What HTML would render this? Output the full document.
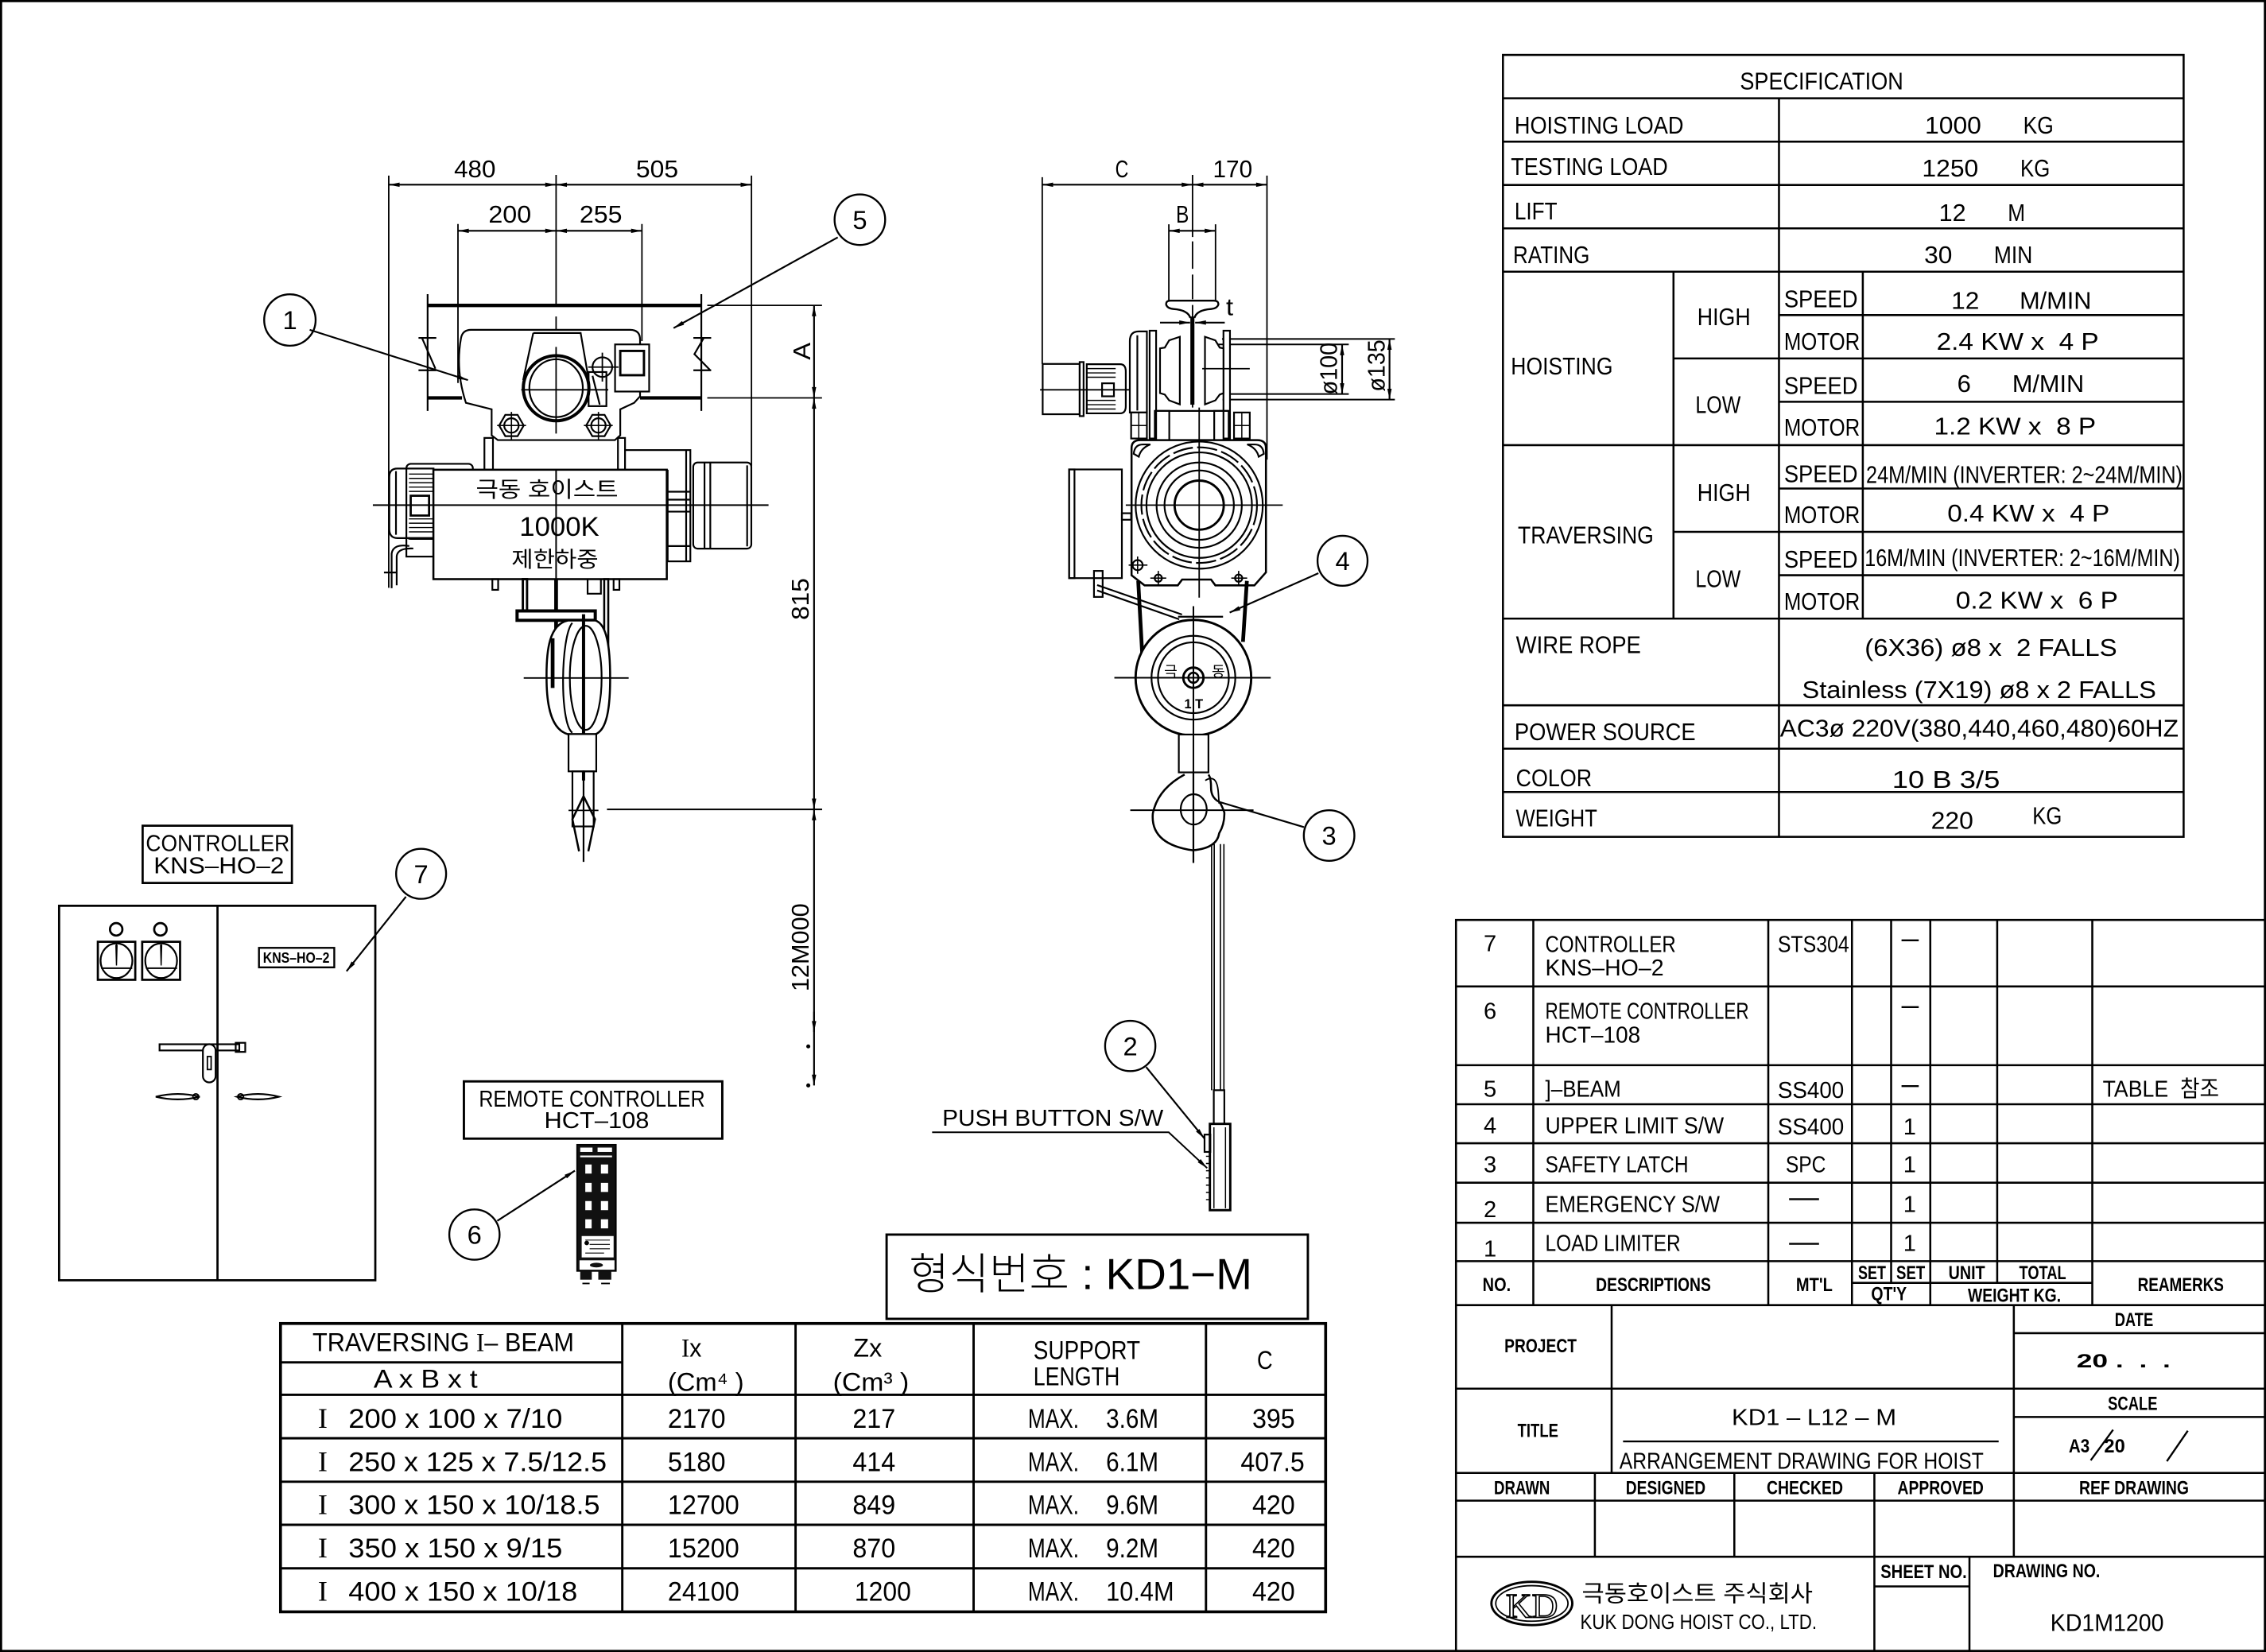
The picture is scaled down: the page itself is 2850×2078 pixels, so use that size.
<!DOCTYPE html>
<html><head><meta charset="utf-8"><style>
html,body{margin:0;padding:0;background:#fff;}
svg{display:block;}
text{font-family:"Liberation Sans","Noto Sans CJK KR",sans-serif;fill:#000;stroke:none;}
.b{font-weight:bold;}
.s{font-family:"Liberation Serif",serif;}
</style></head><body>
<svg width="2850" height="2078" viewBox="0 0 1568 1143" preserveAspectRatio="none" xmlns="http://www.w3.org/2000/svg">
<defs>
<marker id="ar" viewBox="0 0 10 4" refX="10" refY="2" markerWidth="8" markerHeight="3" markerUnits="userSpaceOnUse" orient="auto-start-reverse"><path d="M0,0L10,2L0,4z" fill="#000"/></marker>
</defs>
<rect width="1568" height="1143" fill="#fff"/>
<rect x="0.75" y="0.75" width="1566.5" height="1141.5" fill="none" stroke="#000" stroke-width="1.5"/>

<!-- ================= SPEC TABLE ================= -->
<g stroke="#000" stroke-width="1.4" fill="none">
<rect x="1040" y="38" width="471" height="541"/>
<path d="M1040 68H1511M1040 98H1511M1040 128H1511M1040 158H1511M1040 188H1511M1231 218H1511M1158 248H1511M1231 278H1511M1040 308H1511M1231 338H1511M1158 368H1511M1231 398H1511M1040 428H1511M1040 488H1511M1040 518H1511M1040 548H1511M1231 68V579M1158 188V428M1289 188V428"/>
</g>
<g font-size="17">
<text x="1204" y="62" textLength="113" lengthAdjust="spacingAndGlyphs">SPECIFICATION</text>
<text x="1048" y="92.5" textLength="117" lengthAdjust="spacingAndGlyphs">HOISTING LOAD</text>
<text x="1332" y="92.5" textLength="39" lengthAdjust="spacingAndGlyphs">1000</text>
<text x="1400" y="92.5" textLength="21" lengthAdjust="spacingAndGlyphs">KG</text>
<text x="1045.5" y="121" textLength="108.6" lengthAdjust="spacingAndGlyphs">TESTING LOAD</text>
<text x="1330" y="122" textLength="39" lengthAdjust="spacingAndGlyphs">1250</text>
<text x="1398" y="122" textLength="20.5" lengthAdjust="spacingAndGlyphs">KG</text>
<text x="1048" y="151.7" textLength="29.6" lengthAdjust="spacingAndGlyphs">LIFT</text>
<text x="1341.7" y="153" textLength="18.7" lengthAdjust="spacingAndGlyphs">12</text>
<text x="1389.3" y="153" textLength="12" lengthAdjust="spacingAndGlyphs">M</text>
<text x="1047" y="182" textLength="53" lengthAdjust="spacingAndGlyphs">RATING</text>
<text x="1331.5" y="182" textLength="19.4" lengthAdjust="spacingAndGlyphs">30</text>
<text x="1379.8" y="182" textLength="26.6" lengthAdjust="spacingAndGlyphs">MIN</text>
<text x="1045.5" y="259" textLength="70.5" lengthAdjust="spacingAndGlyphs">HOISTING</text>
<text x="1174.5" y="225" textLength="36.8" lengthAdjust="spacingAndGlyphs">HIGH</text>
<text x="1173.2" y="285.7" textLength="31.3" lengthAdjust="spacingAndGlyphs">LOW</text>
<text x="1234.5" y="212.7" textLength="51" lengthAdjust="spacingAndGlyphs">SPEED</text>
<text x="1234.5" y="242" textLength="52.5" lengthAdjust="spacingAndGlyphs">MOTOR</text>
<text x="1234.5" y="272.5" textLength="51" lengthAdjust="spacingAndGlyphs">SPEED</text>
<text x="1234.5" y="301.3" textLength="52.5" lengthAdjust="spacingAndGlyphs">MOTOR</text>
<text x="1350.2" y="213.7" textLength="19.4" lengthAdjust="spacingAndGlyphs">12</text>
<text x="1397.5" y="213.7" textLength="49.7" lengthAdjust="spacingAndGlyphs">M/MIN</text>
<text x="1340" y="242" textLength="112.3" lengthAdjust="spacingAndGlyphs">2.4 KW x &#160;4 P</text>
<text x="1354.3" y="271.2" textLength="9.5" lengthAdjust="spacingAndGlyphs">6</text>
<text x="1392.4" y="271.2" textLength="49.7" lengthAdjust="spacingAndGlyphs">M/MIN</text>
<text x="1338.3" y="300.6" textLength="112" lengthAdjust="spacingAndGlyphs">1.2 KW x &#160;8 P</text>
<text x="1050.3" y="376" textLength="94" lengthAdjust="spacingAndGlyphs">TRAVERSING</text>
<text x="1174.5" y="346.6" textLength="36.8" lengthAdjust="spacingAndGlyphs">HIGH</text>
<text x="1173.2" y="406.2" textLength="31.3" lengthAdjust="spacingAndGlyphs">LOW</text>
<text x="1234.5" y="333.5" textLength="51" lengthAdjust="spacingAndGlyphs">SPEED</text>
<text x="1234.5" y="362" textLength="52.5" lengthAdjust="spacingAndGlyphs">MOTOR</text>
<text x="1234.5" y="392.7" textLength="51" lengthAdjust="spacingAndGlyphs">SPEED</text>
<text x="1234.5" y="421.8" textLength="52.5" lengthAdjust="spacingAndGlyphs">MOTOR</text>
<text x="1291.3" y="334.2" textLength="218.9" lengthAdjust="spacingAndGlyphs">24M/MIN (INVERTER: 2~24M/MIN)</text>
<text x="1347.5" y="360.8" textLength="112.3" lengthAdjust="spacingAndGlyphs">0.4 KW x &#160;4 P</text>
<text x="1290.3" y="391.7" textLength="218.2" lengthAdjust="spacingAndGlyphs">16M/MIN (INVERTER: 2~16M/MIN)</text>
<text x="1353.3" y="421" textLength="112.3" lengthAdjust="spacingAndGlyphs">0.2 KW x &#160;6 P</text>
<text x="1049" y="452" textLength="86.5" lengthAdjust="spacingAndGlyphs">WIRE ROPE</text>
<text x="1290.3" y="453.7" textLength="174.6" lengthAdjust="spacingAndGlyphs">(6X36) ø8 x &#160;2 FALLS</text>
<text x="1247" y="483" textLength="245" lengthAdjust="spacingAndGlyphs">Stainless (7X19) ø8 x 2 FALLS</text>
<text x="1048" y="512" textLength="125.3" lengthAdjust="spacingAndGlyphs">POWER SOURCE</text>
<text x="1231.7" y="509.7" textLength="275.8" lengthAdjust="spacingAndGlyphs">AC3ø 220V(380,440,460,480)60HZ</text>
<text x="1049" y="544" textLength="52.5" lengthAdjust="spacingAndGlyphs">COLOR</text>
<text x="1309.3" y="545" textLength="74.6" lengthAdjust="spacingAndGlyphs">10 B 3/5</text>
<text x="1049" y="571.7" textLength="56.2" lengthAdjust="spacingAndGlyphs">WEIGHT</text>
<text x="1336.2" y="573.5" textLength="29.3" lengthAdjust="spacingAndGlyphs">220</text>
<text x="1406.4" y="570" textLength="20.4" lengthAdjust="spacingAndGlyphs">KG</text>
</g>

<!-- ================= PARTS TABLE / TITLE BLOCK ================= -->
<g stroke="#000" stroke-width="1.4" fill="none">
<rect x="1007.5" y="636.5" width="560" height="506"/>
<path d="M1007.5 682.5H1568M1007.5 737H1568M1007.5 764H1568M1007.5 791H1568M1007.5 818.3H1568M1007.5 846H1568M1007.5 872.6H1568M1007.5 903H1568M1281.5 887.6H1447.8"/>
<path d="M1061 636.5V903M1223.6 636.5V903M1281.5 636.5V903M1308.6 636.5V887.6M1335.7 636.5V903M1382 636.5V887.6M1447.8 636.5V903"/>
<path d="M1007.5 960.8H1568M1007.5 1019.1H1568M1007.5 1038.3H1568M1007.5 1077.1H1568M1393.5 922.4H1568M1393.5 980.4H1568"/>
<path d="M1115.2 903V1019.1M1393.5 903V1077.1M1103.6 1019.1V1077.1M1200.1 1019.1V1077.1M1297 1019.1V1143M1362.8 1077.1V1143M1297 1097.6H1362.8"/>
<path d="M1123.1 997.3H1383" stroke-width="1.2"/>
<path d="M1315.8 650.6H1327.7M1315.8 696.8H1327.7M1315.8 751.5H1327.7M1238 829.7H1258.7M1238 860.6H1258.7" stroke-width="1.3"/>
<path d="M1446.7 1010.4L1462.2 989.2M1499.4 1011L1513.9 989.9" stroke-width="1.3"/>
</g>
<g font-size="16">
<text x="1026.6" y="658.1">7</text>
<text x="1069.3" y="658.7" textLength="90.3" lengthAdjust="spacingAndGlyphs">CONTROLLER</text>
<text x="1069.3" y="675" textLength="82" lengthAdjust="spacingAndGlyphs">KNS–HO–2</text>
<text x="1230.1" y="658.7" textLength="49.5" lengthAdjust="spacingAndGlyphs">STS304</text>
<text x="1026.6" y="705">6</text>
<text x="1069.3" y="705" textLength="140.9" lengthAdjust="spacingAndGlyphs">REMOTE CONTROLLER</text>
<text x="1069.3" y="721.3" textLength="65.8" lengthAdjust="spacingAndGlyphs">HCT–108</text>
<text x="1026.6" y="758.7">5</text>
<text x="1069.3" y="758.7" textLength="52.4" lengthAdjust="spacingAndGlyphs">]–BEAM</text>
<text x="1230.1" y="759.7" textLength="45.9" lengthAdjust="spacingAndGlyphs">SS400</text>
<text x="1455" y="758.7" textLength="80.6" lengthAdjust="spacingAndGlyphs">TABLE &#160;참조</text>
<text x="1026.6" y="784.1">4</text>
<text x="1069.3" y="784.1" textLength="123.6" lengthAdjust="spacingAndGlyphs">UPPER LIMIT S/W</text>
<text x="1230.1" y="785" textLength="45.9" lengthAdjust="spacingAndGlyphs">SS400</text>
<text x="1317" y="785">1</text>
<text x="1026.6" y="811.1">3</text>
<text x="1069.3" y="811.1" textLength="99" lengthAdjust="spacingAndGlyphs">SAFETY LATCH</text>
<text x="1235.6" y="811.1" textLength="27.8" lengthAdjust="spacingAndGlyphs">SPC</text>
<text x="1317" y="811.1">1</text>
<text x="1026.6" y="842">2</text>
<text x="1069.3" y="838.5" textLength="120.7" lengthAdjust="spacingAndGlyphs">EMERGENCY S/W</text>
<text x="1317" y="838.5">1</text>
<text x="1026.6" y="869.4">1</text>
<text x="1069.3" y="865.5" textLength="93.6" lengthAdjust="spacingAndGlyphs">LOAD LIMITER</text>
<text x="1317" y="865.5">1</text>
</g>
<g font-size="13">
<text class="b" x="1025.9" y="893.2" textLength="19.5" lengthAdjust="spacingAndGlyphs">NO.</text>
<text class="b" x="1104.3" y="893.2" textLength="79.6" lengthAdjust="spacingAndGlyphs">DESCRIPTIONS</text>
<text class="b" x="1242.8" y="893.2" textLength="25.3" lengthAdjust="spacingAndGlyphs">MT'L</text>
<text class="b" x="1285.8" y="885" textLength="19.2" lengthAdjust="spacingAndGlyphs">SET</text>
<text class="b" x="1312.2" y="885" textLength="19.9" lengthAdjust="spacingAndGlyphs">SET</text>
<text class="b" x="1294.8" y="899.7" textLength="24.6" lengthAdjust="spacingAndGlyphs">QT'Y</text>
<text class="b" x="1348.3" y="885" textLength="25.3" lengthAdjust="spacingAndGlyphs">UNIT</text>
<text class="b" x="1397.2" y="885" textLength="32.5" lengthAdjust="spacingAndGlyphs">TOTAL</text>
<text class="b" x="1361.7" y="900.7" textLength="64.4" lengthAdjust="spacingAndGlyphs">WEIGHT KG.</text>
<text class="b" x="1479.2" y="893.2" textLength="59.6" lengthAdjust="spacingAndGlyphs">REAMERKS</text>
<text class="b" x="1041" y="935.5" textLength="50" lengthAdjust="spacingAndGlyphs">PROJECT</text>
<text class="b" x="1463.3" y="917.6" textLength="26.7" lengthAdjust="spacingAndGlyphs">DATE</text>
<text class="b" x="1436.9" y="946" textLength="65" lengthAdjust="spacingAndGlyphs">20 . &#160;. &#160;.</text>
<text class="b" x="1050.1" y="994.1" textLength="28.2" lengthAdjust="spacingAndGlyphs">TITLE</text>
<text class="b" x="1458.6" y="975.6" textLength="34.3" lengthAdjust="spacingAndGlyphs">SCALE</text>
<text class="b" x="1431.5" y="1004.9" textLength="14.5" lengthAdjust="spacingAndGlyphs">A3</text>
<text class="b" x="1456" y="1004.9" textLength="14.5" lengthAdjust="spacingAndGlyphs">20</text>
<text class="b" x="1033.8" y="1033.8" textLength="38.7" lengthAdjust="spacingAndGlyphs">DRAWN</text>
<text class="b" x="1125" y="1033.8" textLength="55.2" lengthAdjust="spacingAndGlyphs">DESIGNED</text>
<text class="b" x="1222.5" y="1033.8" textLength="52.8" lengthAdjust="spacingAndGlyphs">CHECKED</text>
<text class="b" x="1313" y="1033.8" textLength="59.6" lengthAdjust="spacingAndGlyphs">APPROVED</text>
<text class="b" x="1438.7" y="1033.8" textLength="75.9" lengthAdjust="spacingAndGlyphs">REF DRAWING</text>
<text class="b" x="1301.3" y="1091.8" textLength="59.7" lengthAdjust="spacingAndGlyphs">SHEET NO.</text>
<text class="b" x="1379.1" y="1091.2" textLength="74.1" lengthAdjust="spacingAndGlyphs">DRAWING NO.</text>
</g>
<text x="1198.3" y="986" font-size="16" textLength="113.9" lengthAdjust="spacingAndGlyphs">KD1 – L12 – M</text>
<text x="1120.6" y="1016.3" font-size="16" textLength="252" lengthAdjust="spacingAndGlyphs">ARRANGEMENT DRAWING FOR HOIST</text>
<text x="1418.8" y="1128.3" font-size="17" textLength="78.5" lengthAdjust="spacingAndGlyphs">KD1M1200</text>
<text x="1094.6" y="1108.1" font-size="16" textLength="159.8" lengthAdjust="spacingAndGlyphs">극동호이스트 주식회사</text>
<text x="1093.5" y="1127" font-size="14" textLength="163.7" lengthAdjust="spacingAndGlyphs">KUK DONG HOIST CO., LTD.</text>
<g fill="none" stroke="#000">
<ellipse cx="1060" cy="1109.4" rx="28" ry="15" stroke-width="1.6"/>
<ellipse cx="1060" cy="1109.4" rx="25" ry="12.3" stroke-width="1"/>
</g>
<text class="s" x="1042" y="1119" font-size="24" textLength="36" lengthAdjust="spacingAndGlyphs" style="fill:#fff;stroke:#000;stroke-width:0.9">KD</text>

<!-- ================= FRONT VIEW ================= -->
<g stroke="#000" fill="none" stroke-width="1.2">
<path d="M269 121.5V406.7M520 121.5V322.5M316.9 155V265M444.2 155V236" stroke-width="1"/>
<path d="M269 127.8H384.8" marker-start="url(#ar)" marker-end="url(#ar)"/>
<path d="M384.8 127.8H520" marker-start="url(#ar)" marker-end="url(#ar)"/>
<path d="M316.9 159.7H384.8" marker-start="url(#ar)" marker-end="url(#ar)"/>
<path d="M384.8 159.7H444.2" marker-start="url(#ar)" marker-end="url(#ar)"/>
<path d="M384.8 121V212M384.8 219V228" stroke-width="1"/>
<path d="M295.9 211.3H485.3" stroke-width="2.4"/>
<path d="M295.9 275.3H319.7M442.9 275.3H485.3" stroke-width="2.4"/>
<path d="M295.9 203.5V284.3M485.3 203.5V284.3"/>
<path d="M289.6 233.8H301.9M292 233.8L301.3 255.1M289.6 256.2H301.9"/>
<path d="M479.8 233.8H492.1M487 233.8L480.5 245L491.5 256.2M479.8 256.2H492.1"/>
<path d="M489.4 211.3H568.8M489.4 275.3H568.8" stroke-width="1"/>
<path d="M563.3 211.3V275.3" marker-start="url(#ar)" marker-end="url(#ar)"/>
<path d="M563.3 275.3V560" marker-start="url(#ar)" marker-end="url(#ar)"/>
<path d="M563.3 560V751" marker-start="url(#ar)" marker-end="url(#ar)"/>
<path d="M563.3 700V714" marker-end="url(#ar)"/>
<path d="M420 560H568.9" stroke-width="1.1"/>
<path d="M326 228.2H436Q442.9 228.2 442.9 235V274.2L438.8 278.7L429.2 283.2V301.2L425.5 304.5H344.5L340.2 301.2V283.2L322.4 278.7Q315 256 319 234Q320 228.2 326 228.2Z" fill="#fff"/>
<path d="M369 230.4H401.8L407.4 263M369 230.4L362 263" fill="#fff"/>
<ellipse cx="384.8" cy="268.6" rx="22.7" ry="22.5" stroke-width="2.2" fill="#fff"/>
<ellipse cx="384.8" cy="268.6" rx="18.5" ry="20"/>
<path d="M360.7 269.7H420.9M384.8 240V300" stroke-width="1"/>
<rect x="425.6" y="238.3" width="23.6" height="32.6" fill="#fff"/>
<rect x="429.2" y="242.8" width="16.4" height="16.8" stroke-width="1.6"/>
<rect x="407.3" y="257.4" width="12.3" height="23.6"/>
<path d="M410 260L415 280"/>
<circle cx="416.8" cy="254" r="6.8"/>
<path d="M407 254H428M416.8 244V264" stroke-width="1"/>
<path d="M362.4 294.4L358.15 301.76H349.65L345.4 294.4L349.65 287.04H358.15Z"/>
<circle cx="353.9" cy="294.4" r="5"/>
<path d="M344 294.4H364M353.9 285V304" stroke-width="0.9"/>
<path d="M422.6 294.4L418.35 301.76H409.85L405.6 294.4L409.85 287.04H418.35Z"/>
<circle cx="414.1" cy="294.4" r="5"/>
<path d="M404 294.4H424M414.1 285V304" stroke-width="0.9"/>
<rect x="335.2" y="303" width="5.9" height="22"/>
<rect x="427.6" y="303" width="4.9" height="22"/>
<rect x="432.5" y="311.4" width="45.2" height="77" fill="#fff"/>
<path d="M474.8 311.4V388.4M462 340.2H477.7M462 345.7H477.7M462 354H477.7M462 377.8H477.7M462 325V388"/>
<rect x="479.7" y="320" width="40.2" height="59.6" rx="3" fill="#fff"/>
<path d="M487.5 320V379.6M491.5 320V379.6M517 322V378"/>
<rect x="281.2" y="320.9" width="46" height="52" rx="3" fill="#fff"/>
<path d="M269.4 330Q269.4 324.2 275 324.2H300V372.3H275Q269.4 372.3 269.4 366Z" fill="#fff"/>
<path d="M283 328H300M283 331H300M283 334H300M283 337H300M283 340H300M283 359H300M283 362H300M283 365H300M283 368H300" stroke-width="0.8"/>
<path d="M281.2 324.2V372.3M274 326V370"/>
<rect x="284.2" y="343" width="12.7" height="13.7" stroke-width="1.5"/>
<rect x="281.2" y="372.3" width="18.7" height="12.8"/>
<path d="M283.2 377.8Q272 376 271 383V407M286 379.5Q275 379 274.5 385V405M265.7 396.1H274.5"/>
<rect x="299.9" y="325" width="161.5" height="75.7" fill="#fff" stroke-width="1.4"/>
<path d="M258 349.5H531.8" stroke-width="1.1"/>
<path d="M384.8 325V400.7" stroke-width="1.1"/>
<rect x="340.7" y="400.7" width="4" height="7.4"/>
<rect x="424.6" y="400.7" width="4" height="7.4"/>
<rect x="361.8" y="400.7" width="2.9" height="22.9" stroke-width="1.6"/>
<path d="M384.8 400.7V476" stroke-width="2.6"/>
<path d="M406.6 400.7V410.8H415.8V400.7"/>
<rect x="418.1" y="400.7" width="2.8" height="52" stroke-width="1.4"/>
<rect x="357.8" y="422.7" width="54.1" height="6.5" stroke-width="2.2" fill="#fff"/>
<path d="M393 429.3C380 432 378 450 378.2 469C378.2 490 382 505 393 508H412C420 505 422.2 490 422.2 469C422.2 448 420 432 412 429.3Z" fill="#fff" stroke-width="1.4"/>
<path d="M396 431C388 440 387 500 396 507"/>
<ellipse cx="405.3" cy="469" rx="11" ry="36"/>
<path d="M382.4 441.6L382.4 476" stroke-width="2.6"/>
<path d="M403.8 425V540" stroke-width="2.2"/>
<path d="M362.4 469.1H435" stroke-width="1"/>
<rect x="393.4" y="507.9" width="19.2" height="25.8" fill="#fff"/>
<rect x="396.1" y="533.7" width="14.7" height="38.1"/>
<path d="M403.8 550.9L396.1 566.8L400.7 589M403.8 550.9L411.7 566.8L407.1 589" stroke-width="1.4"/>
<path d="M403.8 533V596.3" stroke-width="1.2"/>
<path d="M393.4 560.7H414.1" stroke-width="1"/>
<circle cx="559.3" cy="724" r="0.8" fill="#000"/>
<circle cx="559.3" cy="751" r="0.8" fill="#000"/>
</g>
<g font-size="17">
<text x="314.2" y="122.6" textLength="28.8" lengthAdjust="spacingAndGlyphs">480</text>
<text x="440.1" y="122.6" textLength="29.3" lengthAdjust="spacingAndGlyphs">505</text>
<text x="338" y="154.1" textLength="29.6" lengthAdjust="spacingAndGlyphs">200</text>
<text x="401" y="154.1" textLength="29.5" lengthAdjust="spacingAndGlyphs">255</text>
<text transform="translate(560.5,249) rotate(-90)" textLength="12" lengthAdjust="spacingAndGlyphs">A</text>
<text transform="translate(559.5,429) rotate(-90)" textLength="29" lengthAdjust="spacingAndGlyphs">815</text>
<text transform="translate(559.5,686) rotate(-90)" textLength="61" lengthAdjust="spacingAndGlyphs">12M000</text>
</g>
<text x="329.3" y="343.8" font-size="15" textLength="98.5" lengthAdjust="spacingAndGlyphs">극동 호이스트</text>
<text x="359.4" y="370.8" font-size="19" textLength="55.3" lengthAdjust="spacingAndGlyphs">1000K</text>
<text x="353.9" y="392.1" font-size="15" textLength="60.2" lengthAdjust="spacingAndGlyphs">제한하중</text>

<!-- ================= SIDE VIEW ================= -->
<g stroke="#000" fill="none" stroke-width="1.2">
<path d="M721.2 127.8H825.2" marker-start="url(#ar)" marker-end="url(#ar)"/>
<path d="M825.2 127.8H876.7" marker-start="url(#ar)" marker-end="url(#ar)"/>
<path d="M721.2 122.6V251.8M876.7 121.5V318" stroke-width="1"/>
<path d="M825.2 121V164M825.2 167V186M825.2 190V207M825.2 211V282" stroke-width="1"/>
<path d="M808.8 159.7H841.1" marker-start="url(#ar)" marker-end="url(#ar)"/>
<path d="M808.8 155.2V208M841.1 155.2V208" stroke-width="1"/>
<path d="M802.7 223.2H823.5" marker-end="url(#ar)"/>
<path d="M847.5 223.2H827" marker-end="url(#ar)"/>
<path d="M810 208H839.8Q843.5 208 843 211Q842 213.5 838 213.8Q828 214.5 826.5 220M810 208Q806.5 208 807 211Q808 213.5 812 213.8Q822 214.5 823.7 220" stroke-width="1.3"/>
<rect x="823.7" y="219" width="2.8" height="61" fill="#000" stroke="none"/>
<path d="M845.6 234.5H965.2M841 238.3H933.3M846 272.6H933.3M846 276.5H965.2" stroke-width="1.1"/>
<path d="M928.7 238.3V272.6" marker-start="url(#ar)" marker-end="url(#ar)"/>
<path d="M961.5 234.5V276.5" marker-start="url(#ar)" marker-end="url(#ar)"/>
<rect x="721.5" y="251.8" width="25.6" height="34.8" fill="#fff"/>
<rect x="747.1" y="250.5" width="2.7" height="37.4"/>
<path d="M752 252H775Q779 252 779 257V281Q779 286 775 286H752Z" fill="#fff"/>
<path d="M752 255H772M752 258H772M752 261H772M752 277H772M752 280H772M752 283H772" stroke-width="0.8"/>
<rect x="762.6" y="265.2" width="8.2" height="9"/>
<path d="M719.7 269.7H790" stroke-width="1"/>
<path d="M781.8 236Q781.8 229.3 788 229.3H793.6V285.4H781.8Z" fill="#fff"/>
<path d="M787 232V284"/>
<rect x="795.5" y="228.8" width="4.5" height="74.6" fill="#fff"/>
<rect x="846.6" y="228.8" width="4.5" height="74.6" fill="#fff"/>
<path d="M816.4 233L809 235.5L806 240.5L802.7 241V272L806 273L809 277L816.4 279.8Z" fill="#fff"/>
<path d="M833.8 233L841 235.5L844 240.5L846.6 241V272L844 273L841 277L833.8 279.8Z" fill="#fff"/>
<path d="M831.9 255.1H864.8" stroke-width="1"/>
<rect x="782.7" y="285.4" width="10.9" height="18" fill="#fff"/>
<path d="M782.7 294.4H793.6M788 285.4V303.4" stroke-width="0.8"/>
<rect x="853.9" y="285.4" width="10.9" height="18" fill="#fff"/>
<path d="M853.9 294.4H864.8M859.3 285.4V303.4" stroke-width="0.8"/>
<path d="M799.1 284.3H850.2"/>
<rect x="799.1" y="284.3" width="10" height="20.2"/>
<rect x="840.2" y="284.3" width="10" height="20.2"/>
<path d="M789 304.5H870Q876 304.5 876 310V396L868 405H841L838 401H818L815 405H792L783 398V310Q783 304.5 789 304.5Z" fill="#fff" stroke-width="1.4"/>
<path d="M784.5 314Q785 307.5 791 307.5H796Q789.5 310 788 316ZM874.5 314Q874 307.5 868 307.5H863Q869.5 310 871 316Z"/>
<circle cx="829.8" cy="349.5" r="44"/>
<circle cx="829.8" cy="349.5" r="40" stroke-dasharray="14 3"/>
<circle cx="829.8" cy="349.5" r="36.5"/>
<circle cx="829.8" cy="349.5" r="29.5"/>
<circle cx="829.8" cy="349.5" r="24"/>
<circle cx="829.8" cy="349.5" r="17" stroke-width="1.6"/>
<path d="M779 349.5H887.6M829.8 282V413.5" stroke-width="1"/>
<rect x="739.8" y="324.8" width="36.5" height="75.2" fill="#fff"/>
<rect x="739.8" y="324.8" width="3.7" height="75.2"/>
<rect x="776.3" y="355.1" width="6.4" height="4.5"/>
<circle cx="787.2" cy="391" r="3.5"/><path d="M781 391H794M787.2 385V397" stroke-width="0.9"/>
<circle cx="801.5" cy="400" r="2.5"/><path d="M796 400H807M801.5 395V405" stroke-width="0.9"/>
<circle cx="857.1" cy="400" r="2.5"/><path d="M852 400H863M857.1 395V405" stroke-width="0.9"/>
<path d="M787.6 401.9L790.4 452.9M862.8 401.9L860.1 444.1" stroke-width="2.6"/>
<path d="M759.2 404.8L817.9 425.2M759.2 408.5L816 428.5"/>
<rect x="757" y="395" width="6" height="18"/>
<path d="M815.2 426.7H846.3"/>
<circle cx="825.8" cy="468.9" r="40" fill="#fff" stroke-width="1.6"/>
<circle cx="825.8" cy="468.9" r="29"/>
<circle cx="825.8" cy="468.9" r="24.5"/>
<circle cx="825.8" cy="468.9" r="7" stroke-width="1.6"/>
<circle cx="825.8" cy="468.9" r="3.5" stroke-width="1.4"/>
<path d="M771.1 468.9H879.3M825.8 419.4V597" stroke-width="1.1"/>
<rect x="815.7" y="508.2" width="20.5" height="26.2" fill="#fff"/>
<path d="M825.8 508V535" stroke-width="1.1"/>
<path d="M819.7 535.9Q801 546 797.7 563Q796 584 825.2 588.3Q842 587 843.6 576.6Q847.5 570 847.2 562.1Q845 556 843.6 554.8Q838 552 838 545Q838 538 836.2 535.9" stroke-width="1.4"/>
<ellipse cx="826" cy="560" rx="9" ry="10.5"/>
<path d="M834 540Q842 535 843 548L843.6 556" stroke-width="1"/>
<path d="M782.1 560.6H867.4" stroke-width="1.1"/>
<path d="M825.8 535V597" stroke-width="1.2"/>
<path d="M838.4 584V754.3M840.2 584V754.3M844.5 584V754.3M846.9 584V754.3" stroke-width="0.9"/>
<rect x="839.9" y="754.3" width="7.3" height="23.3"/>
<rect x="837.2" y="777.6" width="14.1" height="59.7" stroke-width="1.6"/>
<path d="M840 780V836M848 780V836" stroke-width="0.8"/>
<rect x="833.5" y="785" width="4" height="12"/>
<path d="M834.5 800H837M834.5 805H837M834.5 810H837M834.5 815H837M834.5 820H837M834.5 825H837M834.5 830H837" stroke-width="0.8"/>
<path d="M645 783.4H808.7L835.3 808.2" marker-end="url(#ar)" stroke-width="1.1"/>
</g>
<g font-size="17">
<text x="771.7" y="122.6" textLength="9.2" lengthAdjust="spacingAndGlyphs">C</text>
<text x="839.3" y="122.6" textLength="27.3" lengthAdjust="spacingAndGlyphs">170</text>
<text x="813.7" y="154.1" textLength="9" lengthAdjust="spacingAndGlyphs">B</text>
<text x="848.4" y="218" textLength="5" lengthAdjust="spacingAndGlyphs">t</text>
<text transform="translate(925,273) rotate(-90)" textLength="36" lengthAdjust="spacingAndGlyphs">ø100</text>
<text transform="translate(958,271) rotate(-90)" textLength="36" lengthAdjust="spacingAndGlyphs">ø135</text>
<text x="652" y="779" font-size="16" textLength="153" lengthAdjust="spacingAndGlyphs">PUSH BUTTON S/W</text>
</g>
<text x="805.5" y="468" font-size="10">극</text>
<text x="838.5" y="468" font-size="10">동</text>
<text x="819.5" y="490" font-size="9" font-weight="bold">1 T</text>

<!-- ================= BALLOONS ================= -->
<g stroke="#000" fill="#fff" stroke-width="1.3">
<circle cx="200.6" cy="221.4" r="17.8"/>
<circle cx="595" cy="152" r="17.5"/>
<circle cx="929" cy="388" r="17.3"/>
<circle cx="919.7" cy="578.1" r="17.5"/>
<circle cx="782.1" cy="723.7" r="17.4"/>
<circle cx="291.4" cy="604.6" r="17.3"/>
<circle cx="328.3" cy="854.2" r="17.4"/>
</g>
<g stroke="#000" fill="none" stroke-width="1.2">
<path d="M214.3 228.2L323.8 263" marker-end="url(#ar)"/>
<path d="M579.7 164.2L466.1 227" marker-end="url(#ar)"/>
<path d="M912.3 396.6L850.9 423.8" marker-end="url(#ar)"/>
<path d="M902.3 572.3L843.6 554.8"/>
<path d="M793.1 738.3L833.5 787.8" marker-end="url(#ar)"/>
<path d="M280.9 620.4L239.8 672" marker-end="url(#ar)"/>
<path d="M344.1 844.7L397.8 810" marker-end="url(#ar)"/>
</g>
<g font-size="18" text-anchor="middle">
<text x="200.6" y="227.8">1</text>
<text x="595" y="158.4">5</text>
<text x="929" y="394.4">4</text>
<text x="919.7" y="584.5">3</text>
<text x="782.1" y="730.1">2</text>
<text x="291.4" y="611">7</text>
<text x="328.3" y="860.6">6</text>
</g>

<!-- ================= CONTROLLER CABINET ================= -->
<g stroke="#000" fill="none" stroke-width="1.5">
<rect x="98.7" y="571.3" width="103.3" height="39.6"/>
<rect x="40.9" y="626.7" width="218.8" height="259.1"/>
<path d="M150.5 626.7V885.8"/>
<circle cx="80.4" cy="643" r="4.3"/>
<circle cx="111" cy="643" r="4.3"/>
<rect x="67.7" y="651.6" width="25.9" height="26.3"/>
<rect x="98.4" y="651.6" width="26.2" height="26.3"/>
<ellipse cx="80.6" cy="664.7" rx="11" ry="12" stroke-width="1.2"/>
<ellipse cx="111.5" cy="664.7" rx="11" ry="12" stroke-width="1.2"/>
<path d="M70 669.9H91.5M101 669.9H122.5" stroke-width="1.1"/>
<rect x="179.2" y="655.8" width="52.1" height="13.5" stroke-width="1.3"/>
<rect x="110.4" y="722.5" width="55.2" height="4.3" stroke-width="1.2"/>
<rect x="163.1" y="721.5" width="6.6" height="6.3" stroke-width="1.2"/>
<rect x="140.4" y="722.5" width="8.8" height="26.4" rx="4.4" fill="#fff" stroke-width="1.2"/>
<rect x="143.5" y="731" width="2.6" height="9" stroke-width="1"/>
<path d="M107.8 758.8Q123 755 138.2 758.8Q123 762.5 107.8 758.8Z" stroke-width="1.2"/>
<circle cx="135.5" cy="758.8" r="2" stroke-width="1"/>
<path d="M164 758.8Q178.5 755 193 758.8Q178.5 762.5 164 758.8Z" stroke-width="1.2"/>
<circle cx="166.5" cy="758.8" r="2" stroke-width="1"/>
</g>
<path d="M79.8 654L80.6 653L81.4 654L81 668H80.2Z M110.7 654L111.5 653L112.3 654L111.9 668H111.1Z" fill="#000"/>
<text x="100.9" y="588.8" font-size="16" textLength="99.5" lengthAdjust="spacingAndGlyphs">CONTROLLER</text>
<text x="106.3" y="604.2" font-size="16" textLength="90.3" lengthAdjust="spacingAndGlyphs">KNS–HO–2</text>
<text x="182" y="666.2" font-size="10" font-weight="bold" textLength="46" lengthAdjust="spacingAndGlyphs">KNS–HO–2</text>

<!-- ================= REMOTE CONTROLLER ================= -->
<rect x="321" y="748.2" width="178.8" height="39.6" fill="none" stroke="#000" stroke-width="1.6"/>
<text x="331.4" y="765.7" font-size="16" textLength="156.4" lengthAdjust="spacingAndGlyphs">REMOTE CONTROLLER</text>
<text x="376.6" y="780.5" font-size="16" textLength="72.6" lengthAdjust="spacingAndGlyphs">HCT–108</text>
<g>
<rect x="399.3" y="792" width="26.9" height="87.4" fill="#111" stroke="#000"/>
<rect x="401.5" y="794" width="8.5" height="3" fill="#fff"/>
<rect x="413.5" y="794" width="10" height="3" fill="#fff"/>
<rect x="401.5" y="799.5" width="22" height="1.2" fill="#fff"/>
<rect x="405" y="805.7" width="4.4" height="6.3" fill="#fff"/>
<rect x="415.8" y="805.7" width="5" height="6.3" fill="#fff"/>
<rect x="405" y="818.4" width="4.4" height="6.3" fill="#fff"/>
<rect x="415.8" y="818.4" width="5" height="6.3" fill="#fff"/>
<rect x="405" y="831" width="4.4" height="6.3" fill="#fff"/>
<rect x="415.8" y="831" width="5" height="6.3" fill="#fff"/>
<rect x="405" y="843.6" width="4.4" height="6.3" fill="#fff"/>
<rect x="415.8" y="843.6" width="5" height="6.3" fill="#fff"/>
<rect x="402.5" y="855.2" width="22.1" height="14.8" fill="#fff"/>
<path d="M405 858H422M408 861H422M408 864H422M405 867H418" stroke="#000" stroke-width="0.6"/>
<circle cx="406" cy="860" r="1.6" fill="#000"/>
<rect x="401" y="872" width="24.2" height="6.5" fill="#fff"/>
<ellipse cx="412.7" cy="875.3" rx="4.5" ry="1.6" fill="#111"/>
<rect x="401.5" y="879.4" width="8" height="6" fill="#111"/>
<rect x="414" y="879.4" width="9" height="6" fill="#111"/>
<path d="M403 888H408M416 888H422" stroke="#000" stroke-width="1"/>
</g>

<!-- ================= MODEL BOX ================= -->
<rect x="613.5" y="854.2" width="291.5" height="58.3" fill="none" stroke="#000" stroke-width="1.6"/>
<text x="629" y="892" font-size="30" font-weight="300" textLength="237.5" lengthAdjust="spacingAndGlyphs">형식번호 : KD1−M</text>

<!-- ================= BEAM TABLE ================= -->
<g stroke="#000" fill="none" stroke-width="1.6">
<rect x="194.1" y="915.7" width="723.2" height="199.5" stroke-width="2"/>
<path d="M430.6 915.7V1115.2M550.5 915.7V1115.2M673.7 915.7V1115.2M834.5 915.7V1115.2"/>
<path d="M194.1 942.6H430.6M194.1 965H917.3M194.1 995.1H917.3M194.1 1025.2H917.3M194.1 1055H917.3M194.1 1085.1H917.3"/>
</g>
<g font-size="18">
<text x="216.2" y="934.9" textLength="181" lengthAdjust="spacingAndGlyphs">TRAVERSING <tspan class="s">I</tspan>– BEAM</text>
<text x="258.5" y="960.1" textLength="72" lengthAdjust="spacingAndGlyphs">A x B x t</text>
<text x="471.5" y="938.6" textLength="14" lengthAdjust="spacingAndGlyphs"><tspan class="s">I</tspan>x</text>
<text x="462.1" y="962.3" textLength="52.7" lengthAdjust="spacingAndGlyphs">(Cm⁴ )</text>
<text x="590.5" y="938.6" textLength="19.8" lengthAdjust="spacingAndGlyphs">Zx</text>
<text x="576.4" y="962.3" textLength="52.6" lengthAdjust="spacingAndGlyphs">(Cm³ )</text>
<text x="715.1" y="940.4" textLength="73.9" lengthAdjust="spacingAndGlyphs">SUPPORT</text>
<text x="715.1" y="958.6" textLength="59.7" lengthAdjust="spacingAndGlyphs">LENGTH</text>
<text x="869.8" y="947.3" textLength="10.8" lengthAdjust="spacingAndGlyphs">C</text>
</g>
<g font-size="19">
<text class="s" x="220" y="987.8" font-size="20">I</text>
<text x="241.1" y="987.8" textLength="148.1" lengthAdjust="spacingAndGlyphs">200 x 100 x 7/10</text>
<text x="462.1" y="987.8" textLength="40" lengthAdjust="spacingAndGlyphs">2170</text>
<text x="590" y="987.8" textLength="29.6" lengthAdjust="spacingAndGlyphs">217</text>
<text x="711.3" y="987.8" textLength="35.3" lengthAdjust="spacingAndGlyphs">MAX.</text>
<text x="765.4" y="987.8" textLength="36.2" lengthAdjust="spacingAndGlyphs">3.6M</text>
<text x="866.5" y="987.8" textLength="29.6" lengthAdjust="spacingAndGlyphs">395</text>

<text class="s" x="220" y="1017.9" font-size="20">I</text>
<text x="241.1" y="1017.9" textLength="178.7" lengthAdjust="spacingAndGlyphs">250 x 125 x 7.5/12.5</text>
<text x="462.1" y="1017.9" textLength="40" lengthAdjust="spacingAndGlyphs">5180</text>
<text x="590" y="1017.9" textLength="29.6" lengthAdjust="spacingAndGlyphs">414</text>
<text x="711.3" y="1017.9" textLength="35.3" lengthAdjust="spacingAndGlyphs">MAX.</text>
<text x="765.4" y="1017.9" textLength="36.2" lengthAdjust="spacingAndGlyphs">6.1M</text>
<text x="858.5" y="1017.9" textLength="44.2" lengthAdjust="spacingAndGlyphs">407.5</text>

<text class="s" x="220" y="1047.7" font-size="20">I</text>
<text x="241.1" y="1047.7" textLength="174" lengthAdjust="spacingAndGlyphs">300 x 150 x 10/18.5</text>
<text x="462.1" y="1047.7" textLength="49.4" lengthAdjust="spacingAndGlyphs">12700</text>
<text x="590" y="1047.7" textLength="29.6" lengthAdjust="spacingAndGlyphs">849</text>
<text x="711.3" y="1047.7" textLength="35.3" lengthAdjust="spacingAndGlyphs">MAX.</text>
<text x="765.4" y="1047.7" textLength="36.2" lengthAdjust="spacingAndGlyphs">9.6M</text>
<text x="866.5" y="1047.7" textLength="29.6" lengthAdjust="spacingAndGlyphs">420</text>

<text class="s" x="220" y="1077.6" font-size="20">I</text>
<text x="241.1" y="1077.6" textLength="148.1" lengthAdjust="spacingAndGlyphs">350 x 150 x 9/15</text>
<text x="462.1" y="1077.6" textLength="49.4" lengthAdjust="spacingAndGlyphs">15200</text>
<text x="590" y="1077.6" textLength="29.6" lengthAdjust="spacingAndGlyphs">870</text>
<text x="711.3" y="1077.6" textLength="35.3" lengthAdjust="spacingAndGlyphs">MAX.</text>
<text x="765.4" y="1077.6" textLength="36.2" lengthAdjust="spacingAndGlyphs">9.2M</text>
<text x="866.5" y="1077.6" textLength="29.6" lengthAdjust="spacingAndGlyphs">420</text>

<text class="s" x="220" y="1107.4" font-size="20">I</text>
<text x="241.1" y="1107.4" textLength="158.5" lengthAdjust="spacingAndGlyphs">400 x 150 x 10/18</text>
<text x="462.1" y="1107.4" textLength="49.4" lengthAdjust="spacingAndGlyphs">24100</text>
<text x="591.4" y="1107.4" textLength="39" lengthAdjust="spacingAndGlyphs">1200</text>
<text x="711.3" y="1107.4" textLength="35.3" lengthAdjust="spacingAndGlyphs">MAX.</text>
<text x="765.4" y="1107.4" textLength="47" lengthAdjust="spacingAndGlyphs">10.4M</text>
<text x="866.5" y="1107.4" textLength="29.6" lengthAdjust="spacingAndGlyphs">420</text>
</g>
</svg>
</body></html>
